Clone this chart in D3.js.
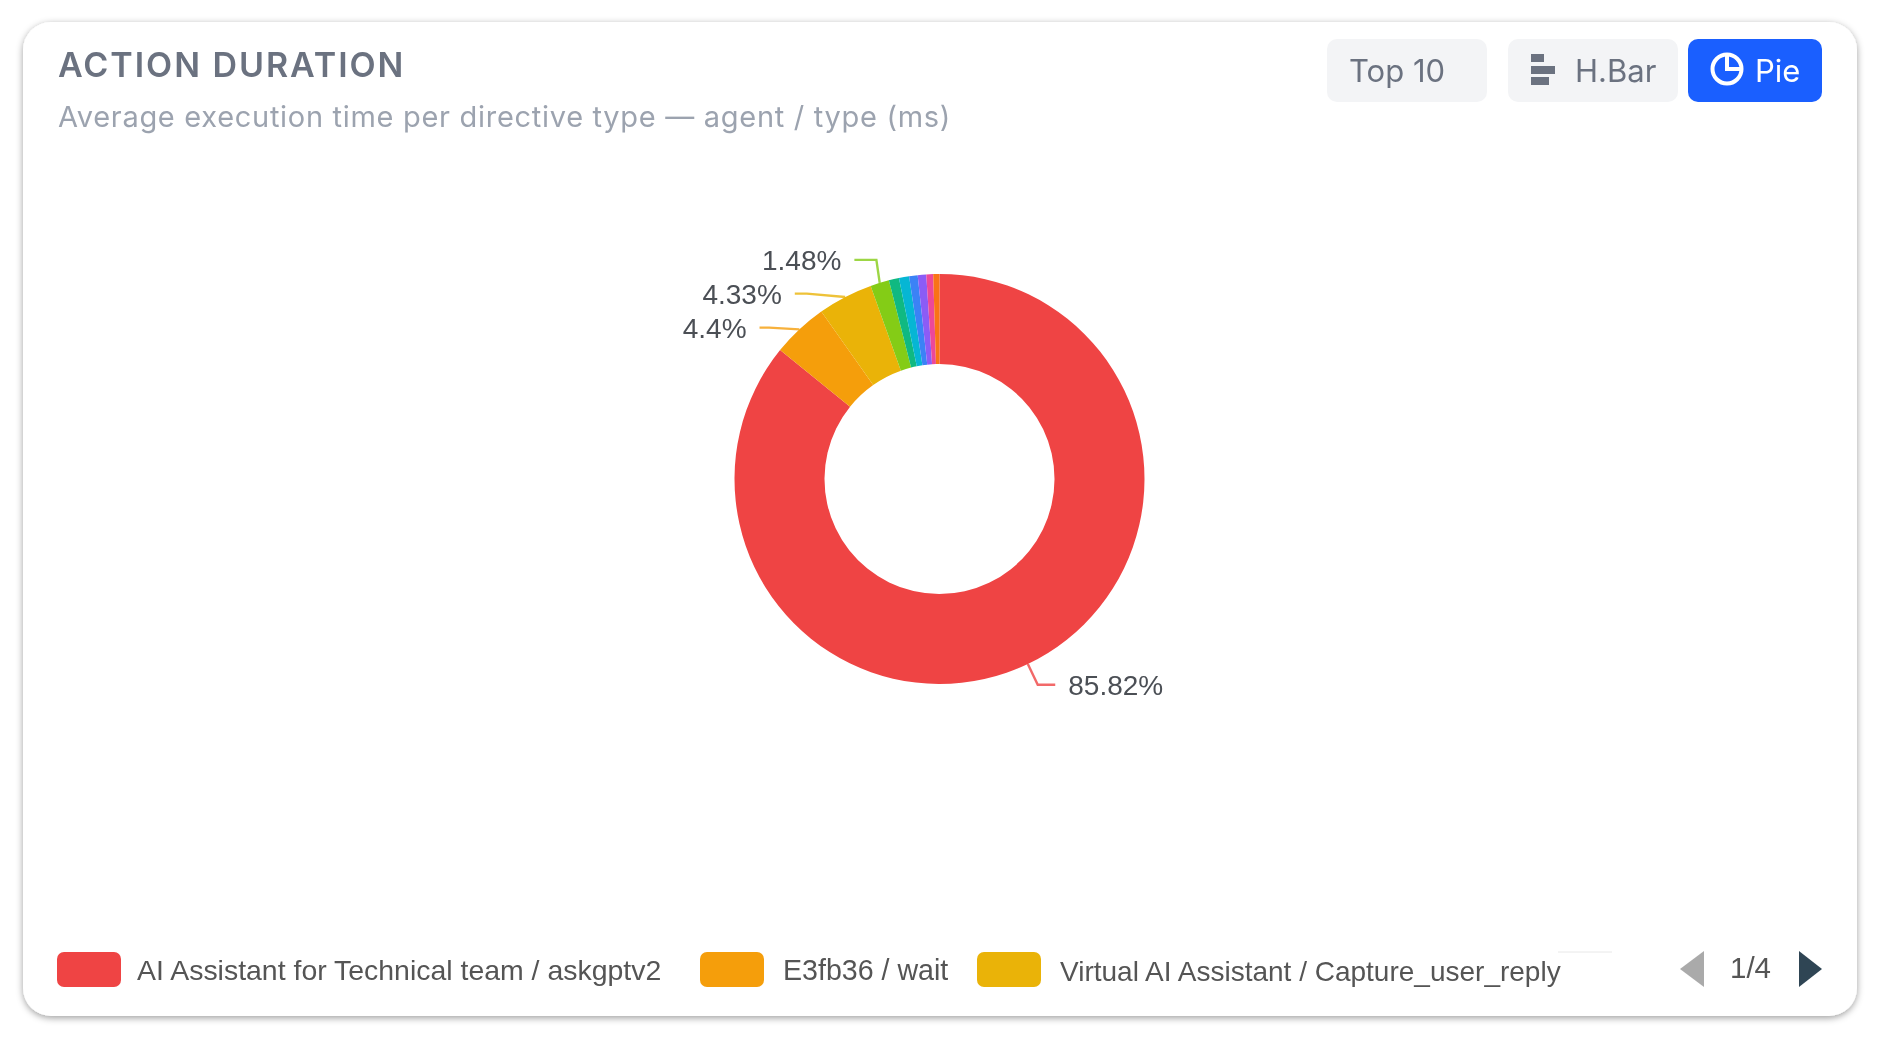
<!DOCTYPE html>
<html>
<head>
<meta charset="utf-8">
<script src="https://cdn.jsdelivr.net/npm/d3@7"></script>
<style>
	html, body { margin: 0; padding: 0; background: #fff; }
	svg { display: block; filter: blur(0.45px); }
	.title { font: 600 34px Inter, sans-serif; fill: #6b7280; letter-spacing: 1.95px; }
	.subtitle { font: 400 29px Inter, sans-serif; fill: #9ca3af; letter-spacing: 0.7px; }
	.btn { font: 400 31px Inter, sans-serif; fill: #6b7280; }
	.pct { font: 400 28px "Liberation Sans", sans-serif; fill: #4b4f55; }
	.legend { font: 400 28px "Liberation Sans", sans-serif; fill: #555; }
</style>
</head>
<body>
<svg id="chart" width="1898" height="1037"></svg>
<script>
// Chart data
var names = [
	'AI Assistant for Technical team / askgptv2',
	'E3fb36 / wait',
	'Virtual AI Assistant / Capture_user_reply'
];
var shares = [85.82, 4.4, 4.33, 1.48, 0.80, 0.80, 0.67, 0.67, 0.54, 0.49];
var colors = ['#ef4444', '#f59e0b', '#eab308', '#84cc16', '#10b981', '#06b6d4', '#3b82f6', '#8b5cf6', '#ec4899', '#f97316'];
var labelled = [0, 1, 2, 3];
var pageLabel = '1/4';

// Layout
var CX = 939.5, CY = 479, R_OUT = 205, R_IN = 115;
// Radial length of the leader before it turns horizontal
var LEADER = 23;
// How far overlapping labels got pushed down, and the horizontal leader tail
var LABEL_SHIFT = [0, 15, 17, -1];
var LEADER_TAIL = [17.5, 9.5, 12, 22];

var svg = d3.select('#chart');

// Card
var defs = svg.append('defs');
var shadow = defs.append('filter').attr('id', 'shadow')
	.attr('x', '-5%').attr('y', '-5%').attr('width', '110%').attr('height', '110%');
shadow.append('feDropShadow').attr('dx', 0).attr('dy', 2).attr('stdDeviation', 3.5)
	.attr('flood-color', '#000').attr('flood-opacity', 0.38);
svg.append('rect').attr('x', 23).attr('y', 22).attr('width', 1834).attr('height', 994)
	.attr('rx', 28).attr('fill', '#fff').attr('filter', 'url(#shadow)');

// Header
svg.append('text').attr('class', 'title').attr('x', 58).attr('y', 77).text('ACTION DURATION');
svg.append('text').attr('class', 'subtitle').attr('x', 58).attr('y', 127)
	.text('Average execution time per directive type \u2014 agent / type (ms)');

// Buttons
var buttons = [
	{ label: 'Top 10', x: 1327, w: 160, tx: 1349, fill: '#f3f4f6', color: '#6b7280' },
	{ label: 'H.Bar', x: 1508, w: 170, tx: 1575, fill: '#f3f4f6', color: '#6b7280' },
	{ label: 'Pie', x: 1688, w: 134, tx: 1755, fill: '#1a5fff', color: '#fff' }
];
buttons.forEach(function (b) {
	svg.append('rect').attr('x', b.x).attr('y', 39).attr('width', b.w).attr('height', 63)
		.attr('rx', 10).attr('fill', b.fill);
	svg.append('text').attr('class', 'btn').attr('x', b.tx).attr('y', 82)
		.style('fill', b.color).text(b.label);
});

// H.Bar icon
[[54, 13], [66, 24], [77, 18]].forEach(function (d) {
	svg.append('rect').attr('x', 1531).attr('y', d[0]).attr('width', d[1]).attr('height', 8).attr('fill', '#6b7280');
});

// Pie icon
var icon = svg.append('g').attr('transform', 'translate(1727,69)')
	.attr('fill', 'none').attr('stroke', '#fff').attr('stroke-width', 4);
icon.append('circle').attr('r', 14.5);
icon.append('path').attr('d', 'M0,-14.5V0H14.5');

// Donut
var pie = d3.pie().sort(null).value(function (d) { return d; });
var arc = d3.arc().innerRadius(R_IN).outerRadius(R_OUT);
var arcs = pie(shares);
var donut = svg.append('g').attr('transform', 'translate(' + CX + ',' + CY + ')');

donut.selectAll('path.slice').data(arcs).enter().append('path')
	.attr('class', 'slice')
	.attr('d', arc)
	.attr('fill', function (d, i) { return colors[i]; });

// Leaders and percent labels
var line = d3.line();
labelled.forEach(function (i) {
	var a = arcs[i];
	var mid = (a.startAngle + a.endAngle) / 2;
	var sin = Math.sin(mid), cos = -Math.cos(mid);
	var side = sin < 0 ? -1 : 1;
	var start = [R_OUT * sin, R_OUT * cos];
	var r2 = R_OUT + LEADER;
	var ey = r2 * cos + LABEL_SHIFT[i];
	var ex = side * Math.sqrt(r2 * r2 - ey * ey);
	var endX = ex + side * LEADER_TAIL[i];
	donut.append('path')
		.attr('d', line([start, [ex, ey], [endX, ey]]))
		.attr('fill', 'none').attr('stroke', colors[i]).attr('stroke-width', 2.4).attr('stroke-opacity', 0.8);
	donut.append('text').attr('class', 'pct')
		.attr('x', endX + side * 13).attr('y', ey + 10)
		.attr('text-anchor', side < 0 ? 'end' : 'start')
		.text(shares[i] + '%');
});

// Legend
var swatchX = [57, 700, 977];
var textX = [137, 783, 1060];
var textY = [980, 980, 981];
var textSize = [28.45, 28.6, 28];
names.forEach(function (name, i) {
	svg.append('rect').attr('x', swatchX[i]).attr('y', 952).attr('width', 64).attr('height', 35)
		.attr('rx', 7).attr('fill', colors[i]);
	svg.append('text').attr('class', 'legend').attr('x', textX[i]).attr('y', textY[i])
		.style('font-size', textSize[i] + 'px').text(name);
});
// Faint scrap of line left above the last legend item
svg.append('line').attr('x1', 1558).attr('x2', 1612).attr('y1', 952).attr('y2', 952)
	.attr('stroke', '#e8e8e8').attr('stroke-width', 1);

// Legend pager
svg.append('path').attr('d', 'M1704,951V987L1680,969Z').attr('fill', '#aaa');
svg.append('text').attr('class', 'legend').attr('x', 1730).attr('y', 978)
	.style('font-size', '29.5px').text(pageLabel);
svg.append('path').attr('d', 'M1799,951V987L1822,969Z').attr('fill', '#2f4554');
</script>
</body>
</html>
